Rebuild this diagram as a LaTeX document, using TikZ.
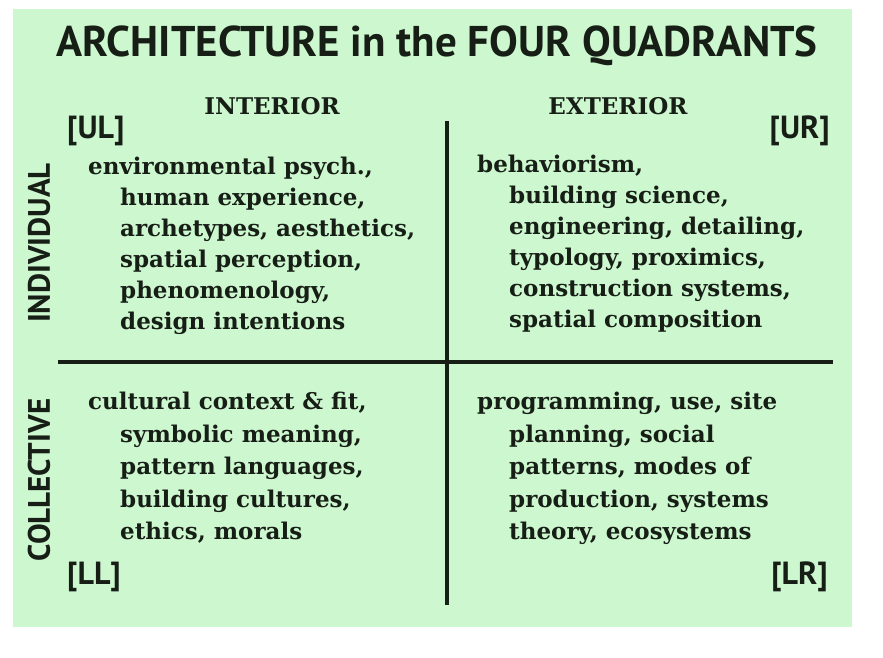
\documentclass[tikz,border=0pt]{standalone}
\usepackage{fontspec}
\setmainfont{DejaVu Serif}
\newfontfamily\titlefont{PT Sans}
\usepackage{tikz}
\definecolor{quadgreen}{RGB}{205,247,207}
\definecolor{inkdark}{RGB}{22,30,22}
\newcommand{\indt}{\hspace*{32pt}}

\begin{document}
\begin{tikzpicture}[x=1pt,y=-1pt,
  titletext/.style={font=\titlefont\bfseries\fontsize{43}{43}\selectfont,inner sep=0,text=inkdark},
  sidetext/.style={font=\titlefont\bfseries\fontsize{31}{31}\selectfont,inner sep=0,text=inkdark,rotate=90},
  headtext/.style={font=\bfseries\fontsize{23}{23}\selectfont,inner sep=0,text=inkdark},
  tagtext/.style={font=\titlefont\bfseries\fontsize{32}{32}\selectfont,inner sep=0,text=inkdark},
  quadtop/.style={font=\bfseries\fontsize{23}{31}\selectfont,inner sep=0,align=left,anchor=north west,text=inkdark},
  quadbot/.style={font=\bfseries\fontsize{23}{32.5}\selectfont,inner sep=0,align=left,anchor=north west,text=inkdark},
  axis/.style={line width=4.5pt,inkdark}]
  \useasboundingbox (0,0) rectangle (883,657);
  \fill[quadgreen] (13,9) rectangle (852,627);

  % heading and labels
  \node[titletext] (title) at (437,46) {ARCHITECTURE in the FOUR QUADRANTS};
  \node[headtext] (inter) at (272,106) {INTERIOR};
  \node[headtext] (exter) at (618,106) {EXTERIOR};
  \node[sidetext] (indiv) at (39,243) {INDIVIDUAL};
  \node[sidetext] (collect) at (39,480) {COLLECTIVE};
  \node[tagtext,anchor=west] (ul) at (67,131) {[UL]};
  \node[tagtext,anchor=east] (ur) at (830,131) {[UR]};
  \node[tagtext,anchor=west] (ll) at (67,577) {[LL]};
  \node[tagtext,anchor=east] (lr) at (828,577) {[LR]};

  % the two axes
  \coordinate (vtop) at (447,121);
  \coordinate (vbot) at (447,605);
  \coordinate (hleft) at (58,362);
  \coordinate (hright) at (833,362);
  \draw[axis] (vtop) -- (vbot);
  \draw[axis] (hleft) -- (hright);

  % quadrant contents
  \node[quadtop] (ultext) at (88,157) {environmental psych.,\\
    \indt human experience,\\ \indt archetypes, aesthetics,\\
    \indt spatial perception,\\ \indt phenomenology,\\ \indt design intentions};
  \node[quadtop] (urtext) at (477,155) {behaviorism,\\
    \indt building science,\\ \indt engineering, detailing,\\
    \indt typology, proximics,\\ \indt construction systems,\\ \indt spatial composition};
  \node[quadbot] (lltext) at (88,392) {cultural context \& fit,\\
    \indt symbolic meaning,\\ \indt pattern languages,\\
    \indt building cultures,\\ \indt ethics, morals};
  \node[quadbot] (lrtext) at (477,392) {programming, use, site\\
    \indt planning, social\\ \indt patterns, modes of\\
    \indt production, systems\\ \indt theory, ecosystems};
\end{tikzpicture}
\end{document}
